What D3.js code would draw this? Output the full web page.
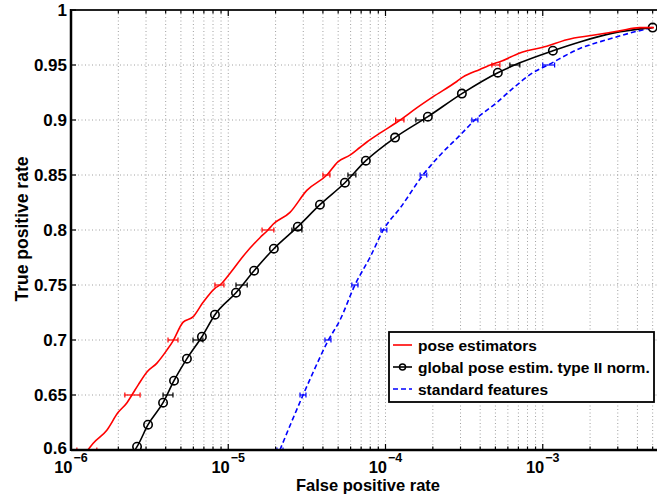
<!DOCTYPE html>
<html><head><meta charset="utf-8">
<script src="https://cdn.jsdelivr.net/npm/d3@7"></script>
<style>body{margin:0;background:#fff}svg{display:block;font-family:"Liberation Sans",Arial,Helvetica,sans-serif;font-weight:bold}</style>
</head><body>
<svg id="c" width="657" height="495"></svg>
<script>
// ---- data ----
const seriesNames = ["pose estimators", "global pose estim. type II norm.", "standard features"];
const xTickExps = [-6, -5, -4, -3];
const yTicks = [0.6, 0.65, 0.7, 0.75, 0.8, 0.85, 0.9, 0.95, 1];
const yTickLabels = ["0.6", "0.65", "0.7", "0.75", "0.8", "0.85", "0.9", "0.95", "1"];

const redX = [1.28e-6,1.38e-6,1.69e-6,1.99e-6,2.27e-6,2.44e-6,2.67e-6,3.04e-6,3.52e-6,4.08e-6,4.45e-6,5.15e-6,5.97e-6,6.90e-6,8.23e-6,8.86e-6,1.03e-5,1.24e-5,1.59e-5,1.79e-5,1.92e-5,2.47e-5,3.16e-5,4.24e-5,4.98e-5,5.94e-5,6.87e-5,7.62e-5,9.21e-5,1.24e-4,1.58e-4,2.00e-4,2.84e-4,3.10e-4,3.98e-4,4.82e-4,5.34e-4,7.15e-4,1.06e-3,1.42e-3,2.08e-3,3.09e-3,4.14e-3,5.1e-3];
const redY = [0.600,0.606,0.618,0.634,0.643,0.650,0.659,0.671,0.679,0.691,0.699,0.716,0.721,0.734,0.747,0.750,0.761,0.776,0.793,0.800,0.805,0.816,0.836,0.850,0.862,0.868,0.875,0.880,0.888,0.900,0.911,0.921,0.935,0.939,0.946,0.951,0.953,0.961,0.967,0.973,0.977,0.981,0.984,0.984];

const blackX = [2.55e-6,2.63e-6,3.09e-6,3.85e-6,4.52e-6,5.46e-6,6.80e-6,8.23e-6,1.12e-5,1.46e-5,1.95e-5,2.77e-5,3.83e-5,5.52e-5,7.50e-5,1.15e-4,1.86e-4,3.06e-4,5.18e-4,7.15e-4,1.16e-3,1.72e-3,2.79e-3,5.0e-3];
const blackY = [0.600,0.603,0.623,0.643,0.663,0.683,0.703,0.723,0.743,0.763,0.783,0.803,0.823,0.843,0.863,0.884,0.903,0.924,0.943,0.952,0.963,0.971,0.979,0.984];
const blackMarkX = [2.63e-6,3.09e-6,3.85e-6,4.52e-6,5.46e-6,6.80e-6,8.23e-6,1.12e-5,1.46e-5,1.95e-5,2.77e-5,3.83e-5,5.52e-5,7.50e-5,1.15e-4,1.86e-4,3.06e-4,5.18e-4,1.16e-3,5.0e-3];
const blackMarkY = [0.603,0.623,0.643,0.663,0.683,0.703,0.723,0.743,0.763,0.783,0.803,0.823,0.843,0.863,0.884,0.903,0.924,0.943,0.963,0.984];

const blueX = [2.13e-5,2.99e-5,3.45e-5,4.30e-5,5.13e-5,6.39e-5,7.96e-5,9.77e-5,1.24e-4,1.73e-4,2.22e-4,2.97e-4,3.70e-4,5.11e-4,6.37e-4,8.65e-4,1.08e-3,1.72e-3,2.56e-3,3.58e-3,5.0e-3];
const blueY = [0.600,0.650,0.670,0.699,0.718,0.750,0.775,0.801,0.820,0.850,0.868,0.886,0.900,0.916,0.928,0.943,0.950,0.965,0.973,0.979,0.984];

// error bars (horizontal, at fixed TPR levels)
const redErrY = [0.6,0.65,0.7,0.75,0.8,0.85,0.9,0.95];
const redErrLo = [1.09e-6,2.20e-6,4.14e-6,8.23e-6,1.64e-5,4.00e-5,1.16e-4,4.75e-4];
const redErrHi = [1.46e-6,2.75e-6,4.79e-6,9.39e-6,1.95e-5,4.43e-5,1.31e-4,5.34e-4];
const blackErrY = [0.65,0.7,0.75,0.8,0.85,0.9,0.95];
const blackErrLo = [3.85e-6,5.97e-6,1.12e-5,2.54e-5,5.77e-5,1.56e-4,6.18e-4];
const blackErrHi = [4.45e-6,6.90e-6,1.32e-5,2.94e-5,6.48e-5,1.75e-4,7.15e-4];
const blueErrY = [0.6,0.65,0.7,0.75,0.8,0.85,0.9,0.95];
const blueErrLo = [2.04e-5,2.86e-5,4.12e-5,6.11e-5,9.35e-5,1.66e-4,3.54e-4,1.00e-3];
const blueErrHi = [2.23e-5,3.12e-5,4.50e-5,6.68e-5,1.02e-4,1.83e-4,3.87e-4,1.19e-3];

// ---- drawing ----
const svg = d3.select("#c");
const L = 71, T = 10, B = 450, R = 700;
const x = d3.scaleLog().domain([1e-6, 1e-2]).range([L, R]);
const y = d3.scaleLinear().domain([0.6, 1]).range([B, T]);

const majors = xTickExps.map(e => Math.pow(10, e));
const minors = [];
xTickExps.forEach(e => { for (let k = 2; k <= 9; k++) minors.push(k * Math.pow(10, e)); });

svg.append("clipPath").attr("id", "clip").append("rect").attr("x", L).attr("y", T).attr("width", R - L).attr("height", B - T);

// grid
const grid = svg.append("g").attr("stroke", "#a0a0a0").attr("stroke-width", 1).attr("stroke-dasharray", "1,2.5");
majors.concat(minors).forEach(v => {
  grid.append("line").attr("x1", x(v)).attr("x2", x(v)).attr("y1", T).attr("y2", B);
});
yTicks.slice(1, -1).forEach(v => {
  grid.append("line").attr("x1", L).attr("x2", R).attr("y1", y(v)).attr("y2", y(v));
});

const plot = svg.append("g").attr("clip-path", "url(#clip)");
const line = d3.line().x(d => x(d[0])).y(d => y(d[1])).curve(d3.curveMonotoneX);
const zip = (a, b) => a.map((v, i) => [v, b[i]]);

function errBars(color, ys, lo, hi) {
  const g = plot.append("g").attr("stroke", color).attr("stroke-width", 1.2);
  ys.forEach((v, i) => {
    const yy = y(v);
    g.append("line").attr("x1", x(lo[i])).attr("x2", x(hi[i])).attr("y1", yy).attr("y2", yy);
    g.append("line").attr("x1", x(lo[i])).attr("x2", x(lo[i])).attr("y1", yy - 2.5).attr("y2", yy + 2.5);
    g.append("line").attr("x1", x(hi[i])).attr("x2", x(hi[i])).attr("y1", yy - 2.5).attr("y2", yy + 2.5);
  });
}

plot.append("path").attr("d", line(zip(blueX, blueY))).attr("fill", "none").attr("stroke", "#0000ff").attr("stroke-width", 1.6).attr("stroke-dasharray", "5,3");
errBars("#0000ff", blueErrY, blueErrLo, blueErrHi);
plot.append("path").attr("d", line(zip(blackX, blackY))).attr("fill", "none").attr("stroke", "#000").attr("stroke-width", 1.6);
errBars("#000", blackErrY, blackErrLo, blackErrHi);
plot.selectAll("circle.m").data(zip(blackMarkX, blackMarkY)).enter().append("circle")
  .attr("cx", d => x(d[0])).attr("cy", d => y(d[1])).attr("r", 4.2)
  .attr("fill", "none").attr("stroke", "#000").attr("stroke-width", 1.6);
plot.append("path").attr("d", line(zip(redX, redY))).attr("fill", "none").attr("stroke", "#ff0000").attr("stroke-width", 1.6);
errBars("#ff0000", redErrY, redErrLo, redErrHi);

// axes
const ax = svg.append("g").attr("stroke", "#000");
ax.append("line").attr("x1", L).attr("x2", R).attr("y1", B).attr("y2", B).attr("stroke-width", 2.5);
ax.append("line").attr("x1", L).attr("x2", L).attr("y1", T - 1).attr("y2", B + 1).attr("stroke-width", 2.5);
ax.append("line").attr("x1", L).attr("x2", R).attr("y1", T).attr("y2", T).attr("stroke-width", 2).attr("stroke", "#222");
majors.forEach(v => {
  ax.append("line").attr("x1", x(v)).attr("x2", x(v)).attr("y1", B).attr("y2", B - 6).attr("stroke-width", 1.2);
  ax.append("line").attr("x1", x(v)).attr("x2", x(v)).attr("y1", T).attr("y2", T + 6).attr("stroke-width", 1.2);
});
minors.forEach(v => {
  ax.append("line").attr("x1", x(v)).attr("x2", x(v)).attr("y1", B).attr("y2", B - 3.5).attr("stroke-width", 1.2);
  ax.append("line").attr("x1", x(v)).attr("x2", x(v)).attr("y1", T).attr("y2", T + 3.5).attr("stroke-width", 1.2);
});
yTicks.forEach(v => {
  ax.append("line").attr("x1", L).attr("x2", L + 5).attr("y1", y(v)).attr("y2", y(v)).attr("stroke-width", 1.2);
});

// tick labels
yTicks.forEach((v, i) => {
  svg.append("text").attr("x", L - 4).attr("y", y(v) + (i === 0 ? 3.5 : 5.5)).attr("text-anchor", "end")
    .attr("font-size", 17).text(yTickLabels[i]);
});
xTickExps.forEach(e => {
  const xv = x(Math.pow(10, e));
  svg.append("text").attr("x", xv + 1.5).attr("y", 472.5).attr("text-anchor", "end").attr("font-size", 16.5).text("10");
  svg.append("text").attr("x", xv + 2.5).attr("y", 462).attr("text-anchor", "start").attr("font-size", 12.5).text("\u2212" + Math.abs(e));
});

svg.append("text").attr("x", 368).attr("y", 491.3).attr("text-anchor", "middle").attr("font-size", 16.5).text("False positive rate");
svg.append("text").attr("transform", "translate(28,229) rotate(-90)").attr("text-anchor", "middle").attr("font-size", 17.5).text("True positive rate");

// legend
const lg = svg.append("g");
lg.append("rect").attr("x", 389).attr("y", 332).attr("width", 265).attr("height", 70).attr("fill", "#fff").attr("stroke", "#000").attr("stroke-width", 1.8);
const rows = [345, 367, 389];
const styles = [{c: "#ff0000", d: null, m: false}, {c: "#000", d: null, m: true}, {c: "#0000ff", d: "5,3", m: false}];
seriesNames.forEach((n, i) => {
  const ly = rows[i];
  const l = lg.append("line").attr("x1", 393).attr("x2", 412).attr("y1", ly).attr("y2", ly).attr("stroke", styles[i].c).attr("stroke-width", 1.6);
  if (styles[i].d) l.attr("stroke-dasharray", styles[i].d);
  if (styles[i].m) lg.append("circle").attr("cx", 402.5).attr("cy", ly).attr("r", 3).attr("fill", "none").attr("stroke", "#000").attr("stroke-width", 1.5);
  lg.append("text").attr("x", 418).attr("y", ly + 5.5).attr("font-size", 15.5).text(n);
});
</script>
</body></html>
